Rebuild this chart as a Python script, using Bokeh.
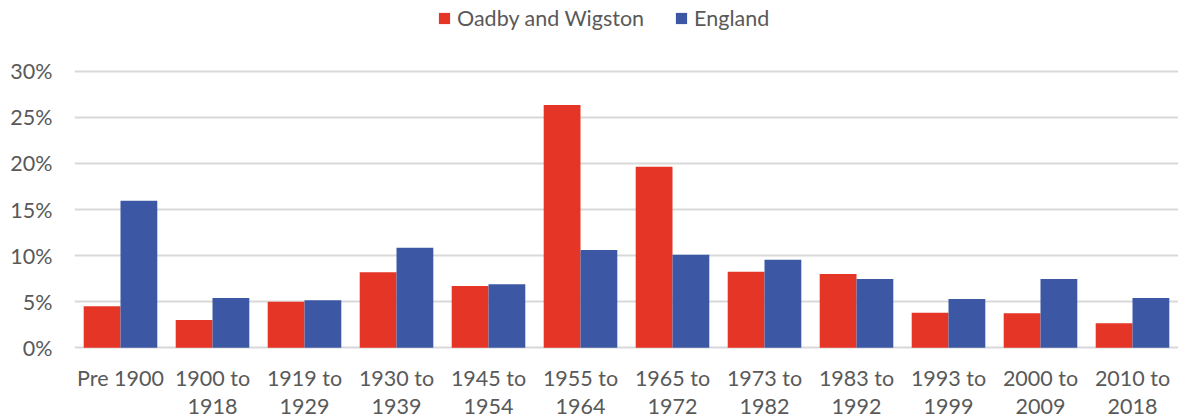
from bokeh.plotting import figure
from bokeh.models import Range1d, FactorRange, FixedTicker, PrintfTickFormatter, Legend, LegendItem, ColumnDataSource
from bokeh.transform import dodge
from bokeh.embed import file_html
from bokeh.resources import INLINE

categories = ["Pre 1900", "1900 to\n1918", "1919 to\n1929", "1930 to\n1939", "1945 to\n1954",
              "1955 to\n1964", "1965 to\n1972", "1973 to\n1982", "1983 to\n1992", "1993 to\n1999",
              "2000 to\n2009", "2010 to\n2018"]
oadby = [4.5, 3.0, 5.0, 8.2, 6.7, 26.35, 19.65, 8.25, 8.0, 3.8, 3.75, 2.65]
england = [15.95, 5.4, 5.15, 10.85, 6.9, 10.6, 10.1, 9.55, 7.45, 5.3, 7.45, 5.4]
series_names = ["Oadby and Wigston", "England"]
y_ticks = [0, 5, 10, 15, 20, 25, 30]

RED = "#E53526"
BLUE = "#3C57A3"
TEXT = "#595959"
GRID = "#D9D9D9"
FONT = "Lato"
FS = "21.5px"

src = ColumnDataSource(dict(cat=categories, oadby=oadby, england=england))

# frame covers the legend area too; gridlines only at the fixed ticks
p = figure(frame_width=1104, frame_height=350, output_backend="svg", toolbar_location=None,
           x_range=FactorRange(factors=categories), y_range=Range1d(-0.3, 37.68),
           min_border_left=74, min_border_right=0, min_border_top=0, min_border_bottom=69)
p.outline_line_color = None

r1 = p.vbar(x=dodge("cat", -0.2, range=p.x_range), top="oadby", bottom=0, width=0.4,
            color=RED, line_color=None, source=src)
r2 = p.vbar(x=dodge("cat", 0.2, range=p.x_range), top="england", bottom=0, width=0.4,
            color=BLUE, line_color=None, source=src)

p.xgrid.grid_line_color = None
p.ygrid.grid_line_color = GRID
p.ygrid.grid_line_width = 2
p.ygrid.ticker = FixedTicker(ticks=y_ticks)

p.yaxis.ticker = FixedTicker(ticks=y_ticks)
p.yaxis.formatter = PrintfTickFormatter(format="%d%%")
p.yaxis.axis_line_color = None
p.yaxis.major_tick_line_color = None
p.yaxis.minor_tick_line_color = None
p.yaxis.major_tick_out = 0
p.yaxis.major_label_standoff = 22
p.yaxis.major_label_text_font = FONT
p.yaxis.major_label_text_font_size = FS
p.yaxis.major_label_text_color = TEXT

p.xaxis.axis_line_color = None
p.xaxis.major_tick_line_color = None
p.xaxis.minor_tick_line_color = None
p.xaxis.major_tick_out = 0
p.xaxis.major_label_standoff = 14
p.xaxis.major_label_text_font = FONT
p.xaxis.major_label_text_font_size = FS
p.xaxis.major_label_text_color = TEXT
p.xaxis.major_label_text_line_height = 1.08

legend = Legend(items=[LegendItem(label=series_names[0], renderers=[r1]),
                       LegendItem(label=series_names[1], renderers=[r2])],
                orientation="horizontal", location=(363, 319),
                glyph_width=14, glyph_height=14, label_standoff=6, spacing=30,
                label_height=24,
                padding=0, margin=0, border_line_color=None, background_fill_alpha=0,
                label_text_font=FONT, label_text_font_size=FS, label_text_color=TEXT)
p.add_layout(legend)

open("out.html", "w").write(file_html(p, INLINE))
